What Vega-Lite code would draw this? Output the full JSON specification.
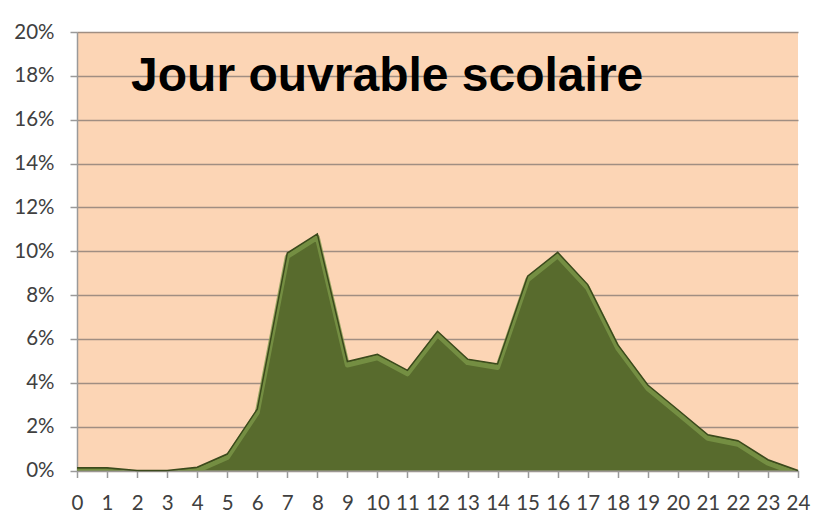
{
  "$schema": "https://vega.github.io/schema/vega-lite/v6.json",
  "autosize": "none",
  "width": 721,
  "height": 438.5,
  "padding": {"left": 77, "top": 32, "right": 30, "bottom": 57.5},
  "background": "#ffffff",
  "config": {
    "view": {"fill": "#FCD5B5", "stroke": null},
    "axis": {
      "labelFont": "Lato",
      "labelFontSize": 20.5,
      "labelColor": "#404040",
      "domainColor": "#9a9a9a",
      "domainWidth": 1.5,
      "tickColor": "#9a9a9a",
      "tickWidth": 1.5,
      "tickSize": 7,
      "gridColor": "#a08e82",
      "gridWidth": 1.5,
      "title": null
    }
  },
  "datasets": {
    "series": [
      {"h": 0, "p": 0.0012},
      {"h": 1, "p": 0.0012},
      {"h": 2, "p": 0.0},
      {"h": 3, "p": 0.0},
      {"h": 4, "p": 0.0015},
      {"h": 5, "p": 0.0075},
      {"h": 6, "p": 0.028},
      {"h": 7, "p": 0.0992},
      {"h": 8, "p": 0.1079},
      {"h": 9, "p": 0.0497},
      {"h": 10, "p": 0.053},
      {"h": 11, "p": 0.0457},
      {"h": 12, "p": 0.0635},
      {"h": 13, "p": 0.0508},
      {"h": 14, "p": 0.0486},
      {"h": 15, "p": 0.0886},
      {"h": 16, "p": 0.0995},
      {"h": 17, "p": 0.0848},
      {"h": 18, "p": 0.0574},
      {"h": 19, "p": 0.039},
      {"h": 20, "p": 0.0277},
      {"h": 21, "p": 0.0163},
      {"h": 22, "p": 0.0136},
      {"h": 23, "p": 0.0049},
      {"h": 24, "p": 0.0}
    ],
    "label": [
      {"t": "Jour ouvrable scolaire", "h": 1.8, "p": 0.173}
    ]
  },
  "encoding": {
    "x": {
      "field": "h",
      "type": "quantitative",
      "scale": {"domain": [0, 24], "nice": false, "zero": false},
      "axis": {
        "values": [0,1,2,3,4,5,6,7,8,9,10,11,12,13,14,15,16,17,18,19,20,21,22,23,24],
        "grid": false,
        "labelPadding": 16,
        "labelFlush": false,
        "labelOverlap": false
      }
    },
    "y": {
      "field": "p",
      "type": "quantitative",
      "scale": {"domain": [0, 0.2], "nice": false},
      "axis": {
        "values": [0,0.02,0.04,0.06,0.08,0.1,0.12,0.14,0.16,0.18,0.2],
        "format": ".0%",
        "grid": true,
        "labelPadding": 16,
        "labelFlush": false,
        "labelOverlap": false
      }
    }
  },
  "layer": [
    {"data": {"name": "series"}, "mark": {"type": "area", "color": "#586B2D", "interpolate": "linear"}},
    {"data": {"name": "series"}, "mark": {"type": "line", "color": "#7E9A4A", "strokeWidth": 5, "yOffset": 3.5, "opacity": 0.75, "strokeJoin": "round", "clip": true}},
    {"data": {"name": "series"}, "mark": {"type": "line", "color": "#3B4A1C", "strokeWidth": 1.5, "strokeJoin": "miter"}},
    {
      "data": {"name": "label"},
      "mark": {"type": "text", "align": "left", "baseline": "alphabetic", "font": "Liberation Sans", "fontSize": 48, "fontWeight": "bold", "color": "#000000"},
      "encoding": {
        "text": {"field": "t"}
      }
    }
  ]
}
